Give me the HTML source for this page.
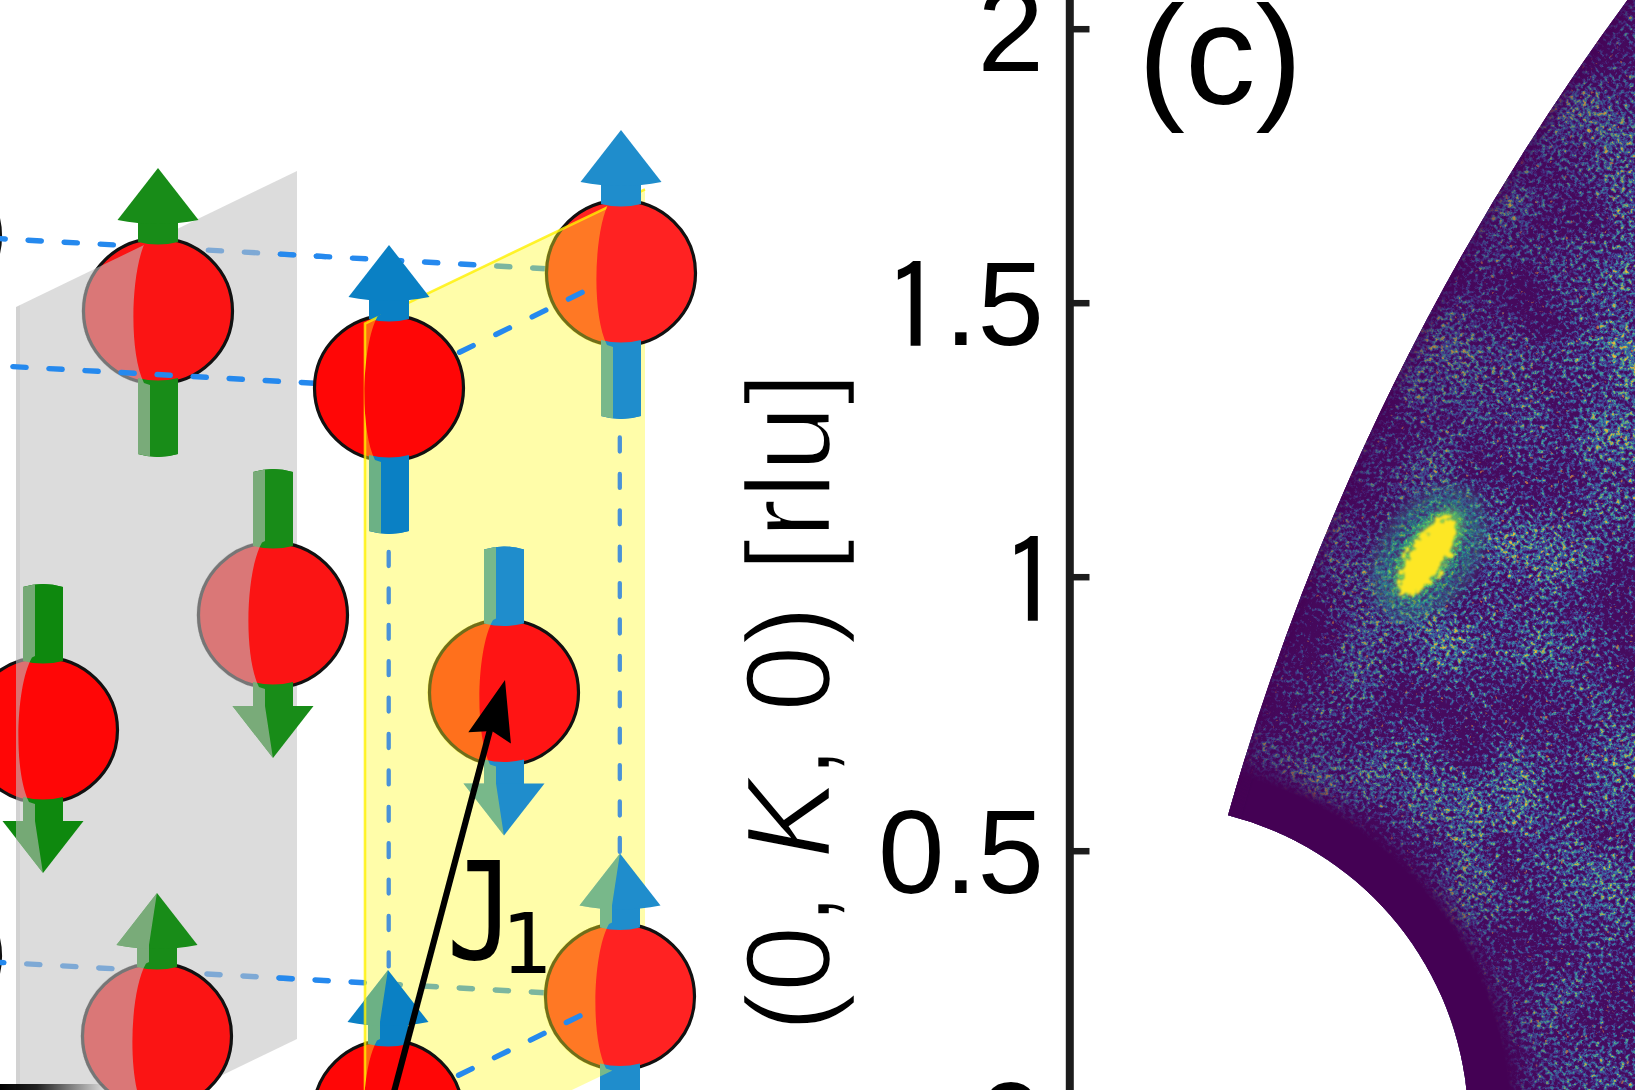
<!DOCTYPE html>
<html><head><meta charset="utf-8"><style>
html,body{margin:0;padding:0;background:#fff;overflow:hidden;}
svg{display:block;}
text{font-family:"Liberation Sans",Arial,sans-serif;}
</style></head><body>
<svg width="1635" height="1090" viewBox="0 0 1635 1090">
<defs>
<clipPath id="cg"><path d="M16.0,307.0 L297.0,171.0 L297.0,1039.0 L16.0,1175.0 Z"/></clipPath>
<clipPath id="cy"><path d="M365.0,323.5 L645.0,189.4 L645.0,1055.0 L365.0,1189.0 Z"/></clipPath>
<clipPath id="frontL1"><rect x="266" y="0" width="60" height="400"/></clipPath>
<clipPath id="frontL4"><rect x="274" y="900" width="30" height="150"/></clipPath>
<g id="gplane"><path d="M16.0,307.0 L297.0,171.0 L297.0,1039.0 L16.0,1175.0 Z" fill="rgba(194,194,194,0.571)"/></g>
<g id="yplane"><path d="M365.0,323.5 L645.0,189.4 L645.0,1055.0 L365.0,1189.0 Z" fill="rgba(255,250,40,0.4)"/>
<path d="M365,1189 L365,323.5 L645,189.4" fill="none" stroke="rgba(255,240,0,0.8)" stroke-width="2.6"/></g>

<clipPath id="silS1"><ellipse cx="158" cy="311" rx="76.7" ry="74.9"/><path d="M158,168 L198.5,220 Q158,228 117.5,220 Z"/><path d="M138,219 L178,219 L178,242 Q158,247 138,242 Z"/><path d="M138,378 Q158,383 178,378 L178,454 Q158,460 138,454 Z"/></clipPath>
<clipPath id="behS1"><path d="M160.5,151 L150,220 L150,237 L147,238.5 C131,266 128,351 144,383 L150,385 L150,711 L-442,711 L-442,-89 L160.5,-89 Z"/></clipPath>
<clipPath id="silS4"><ellipse cx="273" cy="615" rx="76.7" ry="74.9"/><path d="M273,758 L313.5,706 L232.5,706 Z"/><path d="M253,472 Q273,466 293,472 L293,546 Q273,551 253,546 Z"/><path d="M253,682 Q273,687 293,682 L293,707 L253,707 Z"/></clipPath>
<clipPath id="behS4"><path d="M265,215 L265,541 L262,542.5 C246,570 243,655 259,687 L265,689 L265,706 L275.5,775 L275.5,1015 L-327,1015 L-327,215 L275.5,215 Z"/></clipPath>
<clipPath id="silS6"><ellipse cx="43" cy="730" rx="76.7" ry="74.9"/><path d="M43,873 L83.5,821 L2.5,821 Z"/><path d="M23,587 Q43,581 63,587 L63,661 Q43,666 23,661 Z"/><path d="M23,797 Q43,802 63,797 L63,822 L23,822 Z"/></clipPath>
<clipPath id="behS6"><path d="M35,330 L35,656 L32,657.5 C16,685 13,770 29,802 L35,804 L35,821 L45.5,890 L45.5,1130 L-557,1130 L-557,330 L45.5,330 Z"/></clipPath>
<clipPath id="silS7"><ellipse cx="157" cy="1036" rx="76.7" ry="74.9"/><path d="M157,893 L197.5,945 Q157,953 116.5,945 Z"/><path d="M137,944 L177,944 L177,967 Q157,972 137,967 Z"/><path d="M137,1103 Q157,1108 177,1103 L177,1179 Q157,1185 137,1179 Z"/></clipPath>
<clipPath id="behS7"><path d="M159.5,876 L149,945 L149,962 L146,963.5 C130,991 127,1076 143,1108 L149,1110 L149,1436 L-443,1436 L-443,636 L159.5,636 Z"/></clipPath>
<clipPath id="silS2"><ellipse cx="389" cy="388" rx="76.7" ry="74.9"/><path d="M389,245 L429.5,297 Q389,305 348.5,297 Z"/><path d="M369,296 L409,296 L409,319 Q389,324 369,319 Z"/><path d="M369,455 Q389,460 409,455 L409,531 Q389,537 369,531 Z"/></clipPath>
<clipPath id="behS2"><path d="M391.5,228 L381,297 L381,314 L378,315.5 C362,343 359,428 375,460 L381,462 L381,788 L-211,788 L-211,-12 L391.5,-12 Z"/></clipPath>
<clipPath id="silS3"><ellipse cx="621" cy="273" rx="76.7" ry="74.9"/><path d="M621,130 L661.5,182 Q621,190 580.5,182 Z"/><path d="M601,181 L641,181 L641,204 Q621,209 601,204 Z"/><path d="M601,340 Q621,345 641,340 L641,416 Q621,422 601,416 Z"/></clipPath>
<clipPath id="behS3"><path d="M623.5,113 L613,182 L613,199 L610,200.5 C594,228 591,313 607,345 L613,347 L613,673 L21,673 L21,-127 L623.5,-127 Z"/></clipPath>
<clipPath id="silS5"><ellipse cx="504" cy="692.5" rx="76.7" ry="74.9"/><path d="M504,835.5 L544.5,783.5 L463.5,783.5 Z"/><path d="M484,549.5 Q504,543.5 524,549.5 L524,623.5 Q504,628.5 484,623.5 Z"/><path d="M484,759.5 Q504,764.5 524,759.5 L524,784.5 L484,784.5 Z"/></clipPath>
<clipPath id="behS5"><path d="M496,292.5 L496,618.5 L493,620.0 C477,647.5 474,732.5 490,764.5 L496,766.5 L496,783.5 L506.5,852.5 L506.5,1092.5 L-96,1092.5 L-96,292.5 L506.5,292.5 Z"/></clipPath>
<clipPath id="silS8"><ellipse cx="388" cy="1113" rx="76.7" ry="74.9"/><path d="M388,970 L428.5,1022 Q388,1030 347.5,1022 Z"/><path d="M368,1021 L408,1021 L408,1044 Q388,1049 368,1044 Z"/><path d="M368,1180 Q388,1185 408,1180 L408,1256 Q388,1262 368,1256 Z"/></clipPath>
<clipPath id="behS8"><path d="M390.5,953 L380,1022 L380,1039 L377,1040.5 C361,1068 358,1153 374,1185 L380,1187 L380,1513 L-212,1513 L-212,713 L390.5,713 Z"/></clipPath>
<clipPath id="silS9"><ellipse cx="620" cy="996.5" rx="76.7" ry="74.9"/><path d="M620,853.5 L660.5,905.5 Q620,913.5 579.5,905.5 Z"/><path d="M600,904.5 L640,904.5 L640,927.5 Q620,932.5 600,927.5 Z"/><path d="M600,1063.5 Q620,1068.5 640,1063.5 L640,1139.5 Q620,1145.5 600,1139.5 Z"/></clipPath>
<clipPath id="behS9"><path d="M622.5,836.5 L612,905.5 L612,922.5 L609,924.0 C593,951.5 590,1036.5 606,1068.5 L612,1070.5 L612,1396.5 L20,1396.5 L20,596.5 L622.5,596.5 Z"/></clipPath>
</defs>
<rect width="1635" height="1090" fill="#fff"/>
<ellipse cx="-74" cy="236" rx="74.5" ry="72.7" fill="#ff0606" stroke="#111" stroke-width="3.2"/>
<ellipse cx="-74" cy="956" rx="74.5" ry="72.7" fill="#ff0606" stroke="#111" stroke-width="3.2"/>
<line x1="-10.1" y1="238.1" x2="547.0" y2="268.8" stroke="#2589ee" stroke-width="5.4" stroke-dasharray="13.3 22.8" stroke-dashoffset="-2.10" stroke-linecap="round" />
<line x1="-11.5" y1="961.8" x2="546.0" y2="992.8" stroke="#2589ee" stroke-width="5.4" stroke-dasharray="13.3 22.8" stroke-dashoffset="-2.10" stroke-linecap="round" />
<use href="#gplane"/>
<use href="#yplane"/>
<path d="M16,307 L20,305 L20,1175 L16,1175 Z" fill="rgba(0,0,0,0.045)"/>
<line x1="-10.1" y1="238.1" x2="547.0" y2="268.8" stroke="#2589ee" stroke-width="5.4" stroke-dasharray="13.3 22.8" stroke-dashoffset="-2.10" stroke-linecap="round" clip-path="url(#frontL1)"/>
<line x1="-11.5" y1="961.8" x2="546.0" y2="992.8" stroke="#2589ee" stroke-width="5.4" stroke-dasharray="13.3 22.8" stroke-dashoffset="-2.10" stroke-linecap="round" clip-path="url(#frontL4)"/>
<line x1="388.7" y1="552.0" x2="388.7" y2="970.0" stroke="#4a92d8" stroke-width="4.3" stroke-dasharray="14 22.4" stroke-dashoffset="0.00" stroke-linecap="round" />
<line x1="619.8" y1="437.5" x2="619.8" y2="856.0" stroke="#4a92d8" stroke-width="4.3" stroke-dasharray="14 22.4" stroke-dashoffset="0.00" stroke-linecap="round" />
<path d="M138,219 L178,219 L178,242 Q158,247 138,242 Z" fill="#188c18"/><path d="M138,378 Q158,383 178,378 L178,454 Q158,460 138,454 Z" fill="#188c18"/>
<ellipse cx="158" cy="311" rx="74.5" ry="72.7" fill="#fb1414" stroke="#111" stroke-width="3.2"/>
<path d="M138,219 L178,219 L178,242 Q158,247 138,242 Z" fill="#188c18"/><path d="M138,378 Q158,383 178,378 L178,454 Q158,460 138,454 Z" fill="#188c18"/>
<path d="M158,168 L198.5,220 Q158,228 117.5,220 Z" fill="#188c18"/>
<g clip-path="url(#silS1)"><g clip-path="url(#behS1)"><use href="#gplane"/></g></g>
<line x1="-25.3" y1="364.5" x2="316.0" y2="383.3" stroke="#2589ee" stroke-width="5.4" stroke-dasharray="13.3 22.8" stroke-dashoffset="-2.10" stroke-linecap="round" />
<path d="M253,472 Q273,466 293,472 L293,546 Q273,551 253,546 Z" fill="#188c18"/><path d="M253,682 Q273,687 293,682 L293,707 L253,707 Z" fill="#188c18"/>
<ellipse cx="273" cy="615" rx="74.5" ry="72.7" fill="#fb1414" stroke="#111" stroke-width="3.2"/>
<path d="M253,472 Q273,466 293,472 L293,546 Q273,551 253,546 Z" fill="#188c18"/><path d="M253,682 Q273,687 293,682 L293,707 L253,707 Z" fill="#188c18"/>
<path d="M273,758 L313.5,706 L232.5,706 Z" fill="#188c18"/>
<g clip-path="url(#silS4)"><g clip-path="url(#behS4)"><use href="#gplane"/></g></g>
<path d="M23,587 Q43,581 63,587 L63,661 Q43,666 23,661 Z" fill="#0e880e"/><path d="M23,797 Q43,802 63,797 L63,822 L23,822 Z" fill="#0e880e"/>
<ellipse cx="43" cy="730" rx="74.5" ry="72.7" fill="#ff0606" stroke="#111" stroke-width="3.2"/>
<path d="M23,587 Q43,581 63,587 L63,661 Q43,666 23,661 Z" fill="#0e880e"/><path d="M23,797 Q43,802 63,797 L63,822 L23,822 Z" fill="#0e880e"/>
<path d="M43,873 L83.5,821 L2.5,821 Z" fill="#0e880e"/>
<g clip-path="url(#silS6)"><g clip-path="url(#behS6)"><use href="#gplane"/></g></g>
<path d="M137,944 L177,944 L177,967 Q157,972 137,967 Z" fill="#188c18"/><path d="M137,1103 Q157,1108 177,1103 L177,1179 Q157,1185 137,1179 Z" fill="#188c18"/>
<ellipse cx="157" cy="1036" rx="74.5" ry="72.7" fill="#fb1414" stroke="#111" stroke-width="3.2"/>
<path d="M137,944 L177,944 L177,967 Q157,972 137,967 Z" fill="#188c18"/><path d="M137,1103 Q157,1108 177,1103 L177,1179 Q157,1185 137,1179 Z" fill="#188c18"/>
<path d="M157,893 L197.5,945 Q157,953 116.5,945 Z" fill="#188c18"/>
<g clip-path="url(#silS7)"><g clip-path="url(#behS7)"><use href="#gplane"/></g></g>
<path d="M369,296 L409,296 L409,319 Q389,324 369,319 Z" fill="#0a80c4"/><path d="M369,455 Q389,460 409,455 L409,531 Q389,537 369,531 Z" fill="#0a80c4"/>
<ellipse cx="389" cy="388" rx="74.5" ry="72.7" fill="#ff0606" stroke="#111" stroke-width="3.2"/>
<path d="M369,296 L409,296 L409,319 Q389,324 369,319 Z" fill="#0a80c4"/><path d="M369,455 Q389,460 409,455 L409,531 Q389,537 369,531 Z" fill="#0a80c4"/>
<path d="M389,245 L429.5,297 Q389,305 348.5,297 Z" fill="#0a80c4"/>
<g clip-path="url(#silS2)"><g clip-path="url(#behS2)"><use href="#yplane"/></g></g>
<path d="M601,181 L641,181 L641,204 Q621,209 601,204 Z" fill="#1f8dcc"/><path d="M601,340 Q621,345 641,340 L641,416 Q621,422 601,416 Z" fill="#1f8dcc"/>
<ellipse cx="621" cy="273" rx="74.5" ry="72.7" fill="#ff2222" stroke="#111" stroke-width="3.2"/>
<path d="M601,181 L641,181 L641,204 Q621,209 601,204 Z" fill="#1f8dcc"/><path d="M601,340 Q621,345 641,340 L641,416 Q621,422 601,416 Z" fill="#1f8dcc"/>
<path d="M621,130 L661.5,182 Q621,190 580.5,182 Z" fill="#1f8dcc"/>
<g clip-path="url(#silS3)"><g clip-path="url(#behS3)"><use href="#yplane"/></g></g>
<path d="M484,549.5 Q504,543.5 524,549.5 L524,623.5 Q504,628.5 484,623.5 Z" fill="#1f8dcc"/><path d="M484,759.5 Q504,764.5 524,759.5 L524,784.5 L484,784.5 Z" fill="#1f8dcc"/>
<ellipse cx="504" cy="692.5" rx="74.5" ry="72.7" fill="#ff1414" stroke="#111" stroke-width="3.2"/>
<path d="M484,549.5 Q504,543.5 524,549.5 L524,623.5 Q504,628.5 484,623.5 Z" fill="#1f8dcc"/><path d="M484,759.5 Q504,764.5 524,759.5 L524,784.5 L484,784.5 Z" fill="#1f8dcc"/>
<path d="M504,835.5 L544.5,783.5 L463.5,783.5 Z" fill="#1f8dcc"/>
<g clip-path="url(#silS5)"><g clip-path="url(#behS5)"><use href="#yplane"/></g></g>
<path d="M368,1021 L408,1021 L408,1044 Q388,1049 368,1044 Z" fill="#0a80c4"/><path d="M368,1180 Q388,1185 408,1180 L408,1256 Q388,1262 368,1256 Z" fill="#0a80c4"/>
<ellipse cx="388" cy="1113" rx="74.5" ry="72.7" fill="#ff0606" stroke="#111" stroke-width="3.2"/>
<path d="M368,1021 L408,1021 L408,1044 Q388,1049 368,1044 Z" fill="#0a80c4"/><path d="M368,1180 Q388,1185 408,1180 L408,1256 Q388,1262 368,1256 Z" fill="#0a80c4"/>
<path d="M388,970 L428.5,1022 Q388,1030 347.5,1022 Z" fill="#0a80c4"/>
<g clip-path="url(#silS8)"><g clip-path="url(#behS8)"><use href="#yplane"/></g></g>
<path d="M600,904.5 L640,904.5 L640,927.5 Q620,932.5 600,927.5 Z" fill="#1f8dcc"/><path d="M600,1063.5 Q620,1068.5 640,1063.5 L640,1139.5 Q620,1145.5 600,1139.5 Z" fill="#1f8dcc"/>
<ellipse cx="620" cy="996.5" rx="74.5" ry="72.7" fill="#ff2222" stroke="#111" stroke-width="3.2"/>
<path d="M600,904.5 L640,904.5 L640,927.5 Q620,932.5 600,927.5 Z" fill="#1f8dcc"/><path d="M600,1063.5 Q620,1068.5 640,1063.5 L640,1139.5 Q620,1145.5 600,1139.5 Z" fill="#1f8dcc"/>
<path d="M620,853.5 L660.5,905.5 Q620,913.5 579.5,905.5 Z" fill="#1f8dcc"/>
<g clip-path="url(#silS9)"><g clip-path="url(#behS9)"><use href="#yplane"/></g></g>
<line x1="458.0" y1="353.0" x2="584.0" y2="291.5" stroke="#2589ee" stroke-width="5.4" stroke-dasharray="15.2 25.2" stroke-dashoffset="-1.70" stroke-linecap="round" />
<line x1="457.0" y1="1076.0" x2="584.4" y2="1013.7" stroke="#2589ee" stroke-width="5.4" stroke-dasharray="15.2 24.8" stroke-dashoffset="-1.70" stroke-linecap="round" />
<line x1="394" y1="1092" x2="491" y2="726" stroke="#000" stroke-width="6.2"/>
<path d="M505,680 L510.9,743.6 L492,731 L468.3,732.3 Z" fill="#000"/>
<text x="446.4" y="958.7" style="font-family:'DejaVu Sans Mono',monospace"><tspan font-size="136" textLength="68.8" lengthAdjust="spacingAndGlyphs">J</tspan><tspan x="500.5" y="973" font-size="84">1</tspan></text>
<defs><linearGradient id="blk" x1="0" x2="1" y1="0" y2="0"><stop offset="0" stop-color="#000"/><stop offset="0.35" stop-color="#000" stop-opacity="0.85"/><stop offset="1" stop-color="#000" stop-opacity="0"/></linearGradient></defs>
<rect x="0" y="1084" width="105" height="7" fill="url(#blk)"/>
<defs>
<clipPath id="hmc"><path d="M1228,815.3 A319.1,319.1 0 0 1 1466.5,1090 L1650,1100 L1650,-10 L1634.9,-10 A2538.3,2538.3 0 0 0 1228,815.3 Z"/></clipPath>
<filter id="nz" filterUnits="userSpaceOnUse" x="1200" y="0" width="435" height="1090" color-interpolation-filters="sRGB">
<feTurbulence type="fractalNoise" baseFrequency="0.24" numOctaves="4" seed="7" result="f0"/>
<feColorMatrix in="f0" type="matrix" values="1 0 0 0 0  1 0 0 0 0  1 0 0 0 0  0 0 0 0 1" result="f1"/>
<feTurbulence type="fractalNoise" baseFrequency="0.012" numOctaves="2" seed="3" result="c0"/>
<feColorMatrix in="c0" type="matrix" values="1 0 0 0 0  1 0 0 0 0  1 0 0 0 0  0 0 0 0 1" result="c1"/>
<feComposite in="f1" in2="c1" operator="arithmetic" k1="0" k2="1.0" k3="0.45" k4="-0.225" result="m"/>
<feColorMatrix in="m" type="matrix" values="1 0 0 0 0  1 0 0 0 0  1 0 0 0 0  0 0 0 0 1"/>
<feComponentTransfer><feFuncR type="table" tableValues="0.275 0.275 0.275 0.275 0.275 0.275 0.275 0.275 0.275 0.275 0.275 0.275 0.275 0.275 0.275 0.275 0.275 0.275 0.275 0.275 0.275 0.275 0.276 0.278 0.280 0.282 0.278 0.273 0.269 0.261 0.251 0.241 0.234 0.232 0.230 0.227 0.297 0.366 0.436 0.518 0.613 0.709 0.804 0.821 0.838 0.855 0.873 0.890 0.907 0.924 0.941"/><feFuncG type="table" tableValues="0.047 0.047 0.047 0.047 0.047 0.047 0.047 0.047 0.047 0.047 0.047 0.047 0.047 0.047 0.047 0.047 0.047 0.047 0.047 0.047 0.047 0.047 0.073 0.098 0.124 0.149 0.180 0.212 0.243 0.280 0.322 0.363 0.407 0.452 0.496 0.541 0.583 0.624 0.666 0.678 0.661 0.644 0.627 0.650 0.672 0.694 0.716 0.738 0.760 0.782 0.804"/><feFuncB type="table" tableValues="0.376 0.376 0.376 0.376 0.376 0.376 0.376 0.376 0.376 0.376 0.376 0.376 0.376 0.376 0.376 0.376 0.376 0.376 0.376 0.376 0.376 0.376 0.404 0.431 0.459 0.486 0.511 0.536 0.560 0.580 0.596 0.612 0.620 0.620 0.620 0.620 0.566 0.512 0.458 0.409 0.364 0.319 0.275 0.270 0.265 0.260 0.255 0.250 0.245 0.240 0.235"/></feComponentTransfer>
<feGaussianBlur stdDeviation="0.5"/>
</filter>
<filter id="dots" filterUnits="userSpaceOnUse" x="1200" y="0" width="435" height="1090" color-interpolation-filters="sRGB">
<feTurbulence type="fractalNoise" baseFrequency="0.2" numOctaves="2" seed="21"/>
<feColorMatrix type="matrix" values="0 0 0 0 0.80  0 0 0 0 0.50  0 0 0 0 0.25  10 0 0 0 -7.2"/>
<feGaussianBlur stdDeviation="0.7"/>
</filter>
<filter id="nz2" filterUnits="userSpaceOnUse" x="1300" y="430" width="260" height="260" color-interpolation-filters="sRGB">
<feTurbulence type="fractalNoise" baseFrequency="0.24" numOctaves="4" seed="11"/>
<feColorMatrix type="matrix" values="1 0 0 0 0  1 0 0 0 0  1 0 0 0 0  0 0 0 0 1"/>
<feComponentTransfer><feFuncR type="table" tableValues="0.267 0.268 0.269 0.271 0.272 0.273 0.275 0.276 0.277 0.279 0.280 0.281 0.282 0.279 0.277 0.265 0.250 0.229 0.208 0.186 0.165 0.147 0.129 0.131 0.133 0.180 0.240 0.314 0.404 0.498 0.610 0.649 0.689 0.728 0.766 0.804 0.842 0.879 0.917 0.955 0.992"/><feFuncG type="table" tableValues="0.004 0.016 0.027 0.039 0.051 0.063 0.075 0.086 0.098 0.110 0.122 0.133 0.145 0.156 0.166 0.223 0.277 0.325 0.373 0.422 0.471 0.520 0.569 0.609 0.650 0.690 0.731 0.765 0.795 0.824 0.847 0.855 0.864 0.872 0.878 0.882 0.887 0.892 0.896 0.901 0.906"/><feFuncB type="table" tableValues="0.329 0.341 0.352 0.363 0.374 0.385 0.396 0.407 0.418 0.429 0.440 0.451 0.461 0.467 0.473 0.505 0.532 0.542 0.553 0.555 0.557 0.553 0.549 0.535 0.521 0.490 0.455 0.412 0.360 0.305 0.233 0.208 0.183 0.157 0.149 0.148 0.147 0.147 0.146 0.146 0.145"/></feComponentTransfer>
</filter>
<filter id="spotf" filterUnits="userSpaceOnUse" x="1340" y="470" width="180" height="180" color-interpolation-filters="sRGB">
<feTurbulence type="fractalNoise" baseFrequency="0.16" numOctaves="2" seed="5" result="n"/>
<feDisplacementMap in="SourceGraphic" in2="n" scale="20" xChannelSelector="R" yChannelSelector="G"/>
<feGaussianBlur stdDeviation="0.8"/>
</filter>
<filter id="edgeb" x="-10%" y="-10%" width="120%" height="120%"><feGaussianBlur stdDeviation="3"/></filter>
<filter id="hb8" x="-50%" y="-50%" width="200%" height="200%"><feGaussianBlur stdDeviation="9"/></filter>
<filter id="hb4" x="-50%" y="-50%" width="200%" height="200%"><feGaussianBlur stdDeviation="4"/></filter>
<radialGradient id="band" gradientUnits="userSpaceOnUse" cx="1149.4" cy="1125.6" r="500">
<stop offset="0" stop-color="#440154" stop-opacity="1"/>
<stop offset="0.722" stop-color="#440154" stop-opacity="1"/>
<stop offset="0.744" stop-color="#440154" stop-opacity="0.6"/>
<stop offset="0.77" stop-color="#440154" stop-opacity="0.25"/>
<stop offset="0.84" stop-color="#440154" stop-opacity="0.08"/>
<stop offset="0.94" stop-color="#440154" stop-opacity="0"/>
</radialGradient>
<linearGradient id="edgeg" gradientUnits="userSpaceOnUse" x1="1386" y1="400" x2="1530" y2="470">
<stop offset="0" stop-color="#440154" stop-opacity="0.35"/>
<stop offset="1" stop-color="#440154" stop-opacity="0"/>
</linearGradient>
<radialGradient id="halog" cx="0.5" cy="0.5" r="0.5">
<stop offset="0" stop-color="#fff" stop-opacity="1"/>
<stop offset="0.45" stop-color="#fff" stop-opacity="0.85"/>
<stop offset="1" stop-color="#fff" stop-opacity="0"/>
</radialGradient>
<mask id="halom" maskUnits="userSpaceOnUse" x="1300" y="430" width="260" height="260"><ellipse cx="1429" cy="553" rx="80" ry="52" transform="rotate(-56 1429 553)" fill="url(#halog)"/></mask>
</defs>
<g clip-path="url(#hmc)">
<rect x="1200" y="0" width="435" height="1090" fill="#440154"/>
<rect x="1200" y="0" width="435" height="1090" filter="url(#nz)"/>
<rect x="1200" y="0" width="435" height="1090" filter="url(#dots)" opacity="0.75"/>
<rect x="1200" y="0" width="435" height="1090" fill="url(#edgeg)"/>
<ellipse cx="1429" cy="553" rx="72" ry="46" transform="rotate(-56 1429 553)" fill="#2a8a8c" opacity="0.45" filter="url(#hb8)"/>
<rect x="1300" y="430" width="260" height="260" filter="url(#nz2)" mask="url(#halom)"/>
<ellipse cx="1429" cy="553" rx="50" ry="22" transform="rotate(-56 1429 553)" fill="#6cc85a" opacity="0.8" filter="url(#hb4)"/>
<ellipse cx="1428" cy="556" rx="45" ry="18" transform="rotate(-58 1428 556)" fill="#fde725" filter="url(#spotf)"/>
<rect x="1200" y="0" width="435" height="1090" fill="url(#band)"/>
<path d="M1634.9,-10 A2538.3,2538.3 0 0 0 1228,815.3" fill="none" stroke="#440154" stroke-opacity="0.55" stroke-width="16" filter="url(#edgeb)"/>
</g>
<line x1="1069.8" y1="-5" x2="1069.8" y2="1095" stroke="#1c1c1c" stroke-width="8"/>
<line x1="1070" y1="29.2" x2="1089.5" y2="29.2" stroke="#1c1c1c" stroke-width="6.5"/>
<line x1="1070" y1="303.2" x2="1089.5" y2="303.2" stroke="#1c1c1c" stroke-width="6.5"/>
<line x1="1070" y1="577.2" x2="1089.5" y2="577.2" stroke="#1c1c1c" stroke-width="6.5"/>
<line x1="1070" y1="851.2" x2="1089.5" y2="851.2" stroke="#1c1c1c" stroke-width="6.5"/>
<text x="1044" y="70.9" font-size="119.5" text-anchor="end">2</text>
<text x="1044" y="344.9" font-size="119.5" text-anchor="end"><tspan font-size="121.5" dy="7.1" style="font-family:IPAGothic,'Liberation Sans',sans-serif">1</tspan><tspan dx="0" dy="-7.1">.5</tspan></text>
<text x="1000.7" y="626.8" font-size="121.5" style="font-family:IPAGothic,'Liberation Sans',sans-serif">1</text>
<text x="1044" y="892.9" font-size="119.5" text-anchor="end">0.5</text>
<text x="1044" y="1164.5" font-size="119.5" text-anchor="end">0</text>
<text transform="translate(829.5,702) rotate(-90)" font-size="120" text-anchor="middle" stroke="#fff" stroke-width="2.4">(0, <tspan font-style="italic">K</tspan>, 0) [rlu]</text>
<text x="1138" y="104" font-size="141">(c)</text>
</svg></body></html>
